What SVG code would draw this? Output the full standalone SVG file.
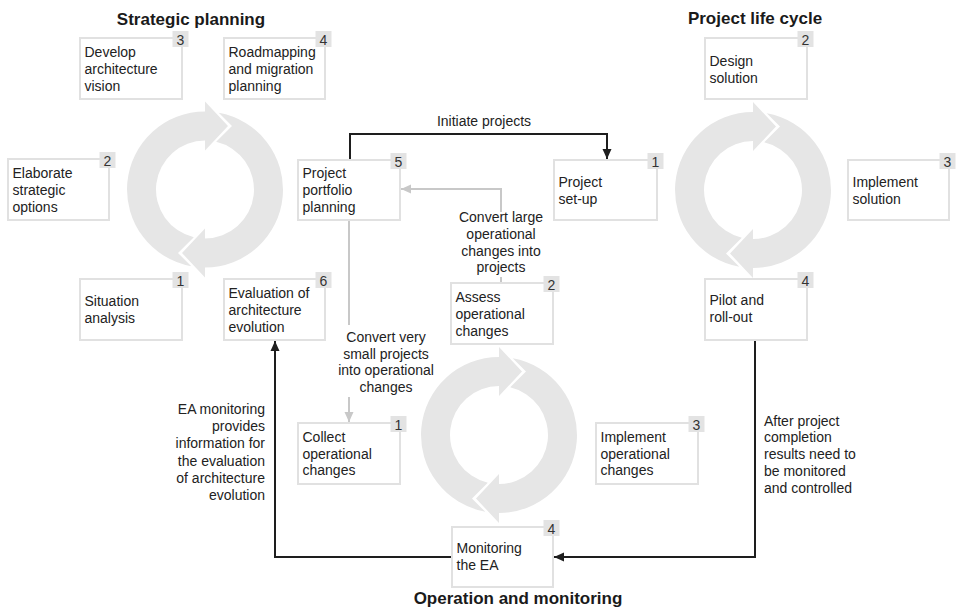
<svg xmlns="http://www.w3.org/2000/svg" xmlns:xlink="http://www.w3.org/1999/xlink" width="959" height="614" viewBox="0 0 959 614">
<defs>
<style>
.box{fill:#fff;stroke:#e1e1e1;stroke-width:2}
.badge{fill:#e3e3e3}
.num{font-family:"Liberation Sans",Arial,sans-serif;font-size:14px;fill:#333;text-anchor:middle}
.lbl{font-family:"Liberation Sans",Arial,sans-serif;font-size:14px;fill:#222}
.mid{text-anchor:middle}
.end{text-anchor:end}
.title{font-family:"Liberation Sans",Arial,sans-serif;font-size:17px;font-weight:bold;fill:#1a1a1a;text-anchor:middle}
.dark{stroke:#1e1e1e;stroke-width:2;fill:none}
.light{stroke:#c8c8c8;stroke-width:2;fill:none}
.ring{fill:#e6e6e6}
</style>
<marker id="ahDark" viewBox="0 0 10 10" refX="10" refY="5" markerWidth="10" markerHeight="10" markerUnits="userSpaceOnUse" orient="auto"><path d="M0,0.5 L10,5 L0,9.5 Z" fill="#1e1e1e"/></marker>
<marker id="ahLight" viewBox="0 0 10 10" refX="10" refY="5" markerWidth="10" markerHeight="10" markerUnits="userSpaceOnUse" orient="auto"><path d="M0,0.5 L10,5 L0,9.5 Z" fill="#c8c8c8"/></marker>
<g id="cycle">
<path class="ring" d="M13.72,-76.78 A78,78 0 0 1 0,78 L0,88 L-23,63.5 L0,39 L0,49 A49,49 0 0 0 11.2,-47.7 L27,-63.5 Z"/>
<path class="ring" transform="rotate(180)" d="M13.72,-76.78 A78,78 0 0 1 0,78 L0,88 L-23,63.5 L0,39 L0,49 A49,49 0 0 0 11.2,-47.7 L27,-63.5 Z"/>
</g>
</defs>
<rect width="959" height="614" fill="#fff"/>

<g id="cycles">
<use xlink:href="#cycle" href="#cycle" transform="translate(205,189.5)"/>
<use xlink:href="#cycle" href="#cycle" transform="translate(753,190)"/>
<use xlink:href="#cycle" href="#cycle" transform="translate(499,435)"/>
</g>

<g id="titles">
<text class="title" x="191" y="24.5">Strategic planning</text>
<text class="title" x="755" y="24">Project life cycle</text>
<text class="title" x="518" y="604">Operation and monitoring</text>
</g>

<g id="connectors">
<path class="dark" d="M350,159 V134 H607 V159" marker-end="url(#ahDark)"/>
<text class="lbl mid" x="484" y="126">Initiate projects</text>
<path class="light" d="M501,283 V277 M501,212 V189 H401" marker-end="url(#ahLight)"/>
<text class="lbl mid" x="501" y="222">Convert large<tspan x="501" dy="16.8">operational</tspan><tspan x="501" dy="16.8">changes into</tspan><tspan x="501" dy="16.8">projects</tspan></text>
<path class="light" d="M349,221 V325 M349,397 V422" marker-end="url(#ahLight)"/>
<text class="lbl mid" x="386" y="342">Convert very<tspan x="386" dy="16.7">small projects</tspan><tspan x="386" dy="16.7">into operational</tspan><tspan x="386" dy="16.7">changes</tspan></text>
<path class="dark" d="M755,341 V557 H554" marker-end="url(#ahDark)"/>
<text class="lbl" x="764" y="425.5">After project<tspan x="764" dy="16.8">completion</tspan><tspan x="764" dy="16.8">results need to</tspan><tspan x="764" dy="16.8">be monitored</tspan><tspan x="764" dy="16.8">and controlled</tspan></text>
<path class="dark" d="M452,557 H275 V341" marker-end="url(#ahDark)"/>
<text class="lbl end" x="265" y="414">EA monitoring<tspan x="265" dy="17.2">provides</tspan><tspan x="265" dy="17.2">information for</tspan><tspan x="265" dy="17.2">the evaluation</tspan><tspan x="265" dy="17.2">of architecture</tspan><tspan x="265" dy="17.2">evolution</tspan></text>
</g>

<g id="sp1"><rect class="box" x="80" y="279" width="102" height="61"/><rect class="badge" x="172.5" y="272" width="16" height="16"/><text class="num" x="180.5" y="285.5">1</text><text class="lbl" x="84.5" y="306">Situation<tspan x="84.5" dy="16.8">analysis</tspan></text></g>
<g id="sp2"><rect class="box" x="8" y="159" width="101" height="61"/><rect class="badge" x="99.5" y="152" width="16" height="16"/><text class="num" x="107.5" y="165.5">2</text><text class="lbl" x="12.5" y="178">Elaborate<tspan x="12.5" dy="16.8">strategic</tspan><tspan x="12.5" dy="16.8">options</tspan></text></g>
<g id="sp3"><rect class="box" x="80" y="38" width="102" height="61"/><rect class="badge" x="172.5" y="31" width="16" height="16"/><text class="num" x="180.5" y="44.5">3</text><text class="lbl" x="84.5" y="57">Develop<tspan x="84.5" dy="16.8">architecture</tspan><tspan x="84.5" dy="16.8">vision</tspan></text></g>
<g id="sp4"><rect class="box" x="224" y="38" width="101" height="61"/><rect class="badge" x="315.5" y="31" width="16" height="16"/><text class="num" x="323.5" y="44.5">4</text><text class="lbl" x="228.5" y="57">Roadmapping<tspan x="228.5" dy="16.8">and migration</tspan><tspan x="228.5" dy="16.8">planning</tspan></text></g>
<g id="sp5"><rect class="box" x="298" y="160" width="102" height="60"/><rect class="badge" x="390.5" y="153" width="16" height="16"/><text class="num" x="398.5" y="166.5">5</text><text class="lbl" x="302.5" y="178">Project<tspan x="302.5" dy="16.8">portfolio</tspan><tspan x="302.5" dy="16.8">planning</tspan></text></g>
<g id="sp6"><rect class="box" x="224" y="279" width="101" height="61"/><rect class="badge" x="315.5" y="272" width="16" height="16"/><text class="num" x="323.5" y="285.5">6</text><text class="lbl" x="228.5" y="298">Evaluation of<tspan x="228.5" dy="16.8">architecture</tspan><tspan x="228.5" dy="16.8">evolution</tspan></text></g>

<g id="pl1"><rect class="box" x="554" y="160" width="103" height="60"/><rect class="badge" x="647.5" y="153" width="16" height="16"/><text class="num" x="655.5" y="166.5">1</text><text class="lbl" x="558.5" y="187">Project<tspan x="558.5" dy="16.8">set-up</tspan></text></g>
<g id="pl2"><rect class="box" x="705" y="38" width="102" height="61"/><rect class="badge" x="797.5" y="31" width="16" height="16"/><text class="num" x="805.5" y="44.5">2</text><text class="lbl" x="709.5" y="66">Design<tspan x="709.5" dy="16.8">solution</tspan></text></g>
<g id="pl3"><rect class="box" x="848" y="160" width="101" height="60"/><rect class="badge" x="939.5" y="153" width="16" height="16"/><text class="num" x="947.5" y="166.5">3</text><text class="lbl" x="852.5" y="187">Implement<tspan x="852.5" dy="16.8">solution</tspan></text></g>
<g id="pl4"><rect class="box" x="705" y="279" width="102" height="61"/><rect class="badge" x="797.5" y="272" width="16" height="16"/><text class="num" x="805.5" y="285.5">4</text><text class="lbl" x="709.5" y="305">Pilot and<tspan x="709.5" dy="16.8">roll-out</tspan></text></g>

<g id="op1"><rect class="box" x="298" y="423" width="102" height="61"/><rect class="badge" x="390.5" y="416" width="16" height="16"/><text class="num" x="398.5" y="429.5">1</text><text class="lbl" x="302.5" y="442">Collect<tspan x="302.5" dy="16.7">operational</tspan><tspan x="302.5" dy="16.7">changes</tspan></text></g>
<g id="op2"><rect class="box" x="451" y="283" width="102" height="61"/><rect class="badge" x="543.5" y="276" width="16" height="16"/><text class="num" x="551.5" y="289.5">2</text><text class="lbl" x="455.5" y="302">Assess<tspan x="455.5" dy="16.8">operational</tspan><tspan x="455.5" dy="16.8">changes</tspan></text></g>
<g id="op3"><rect class="box" x="596" y="423" width="102" height="61"/><rect class="badge" x="688.5" y="416" width="16" height="16"/><text class="num" x="696.5" y="429.5">3</text><text class="lbl" x="600.5" y="442">Implement<tspan x="600.5" dy="16.7">operational</tspan><tspan x="600.5" dy="16.7">changes</tspan></text></g>
<g id="op4"><rect class="box" x="452" y="527" width="101" height="60"/><rect class="badge" x="543.5" y="520" width="16" height="16"/><text class="num" x="551.5" y="533.5">4</text><text class="lbl" x="456.5" y="553">Monitoring<tspan x="456.5" dy="16.8">the EA</tspan></text></g>
</svg>
